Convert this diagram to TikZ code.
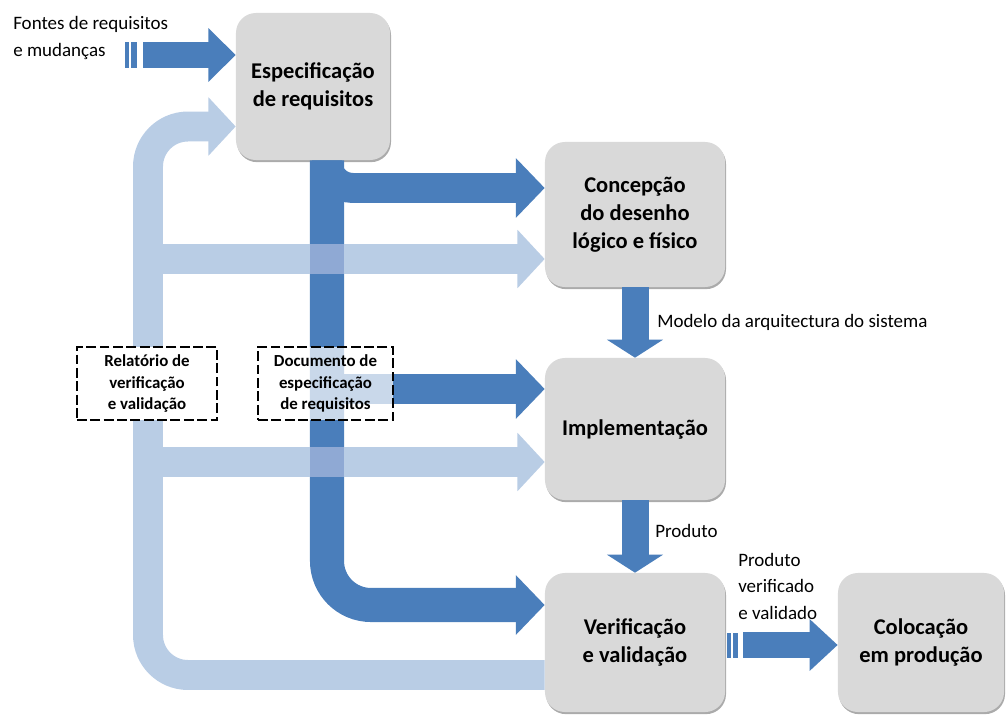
\documentclass[tikz,border=0pt]{standalone}
\usepackage{fontspec}
\setmainfont{Carlito}
\usetikzlibrary{arrows.meta,shadows,calc}

\definecolor{azulEsc}{HTML}{4A7EBB}
\definecolor{azulClaro}{HTML}{B9CDE5}
\definecolor{azulMix}{HTML}{8FA9D4}
\definecolor{cinzaCaixa}{HTML}{D9D9D9}

\begin{document}
\begin{tikzpicture}[x=0.025cm,y=-0.025cm,>=Triangle]

		\tikzstyle{every node}=[inner sep=0pt]
		\tikzstyle{etapa}=[rectangle, rounded corners=0.5cm, fill=cinzaCaixa, minimum width=4.5cm, align=center,
			font=\fontsize{16}{20}\selectfont\bfseries,
			drop shadow={shadow xshift=0.7pt, shadow yshift=-1.5pt, opacity=0.6, fill=black!55}]
		\tikzstyle{documento}=[rectangle, draw, dash pattern=on 7pt off 2.5pt, line width=0.85pt, fill=white,
			minimum height=1.825cm, align=center, font=\fontsize{12}{15.5}\selectfont\bfseries]
		\tikzstyle{rotulo}=[align=left, font=\fontsize{13.5}{18.5}\selectfont]
		\tikzstyle{fluxo}=[draw=azulEsc, line width=21.3pt, -{Triangle[width=1.45cm,length=0.72cm]}]
		\tikzstyle{retorno}=[draw=azulClaro, line width=21.3pt, -{Triangle[width=1.42cm,length=0.68cm]}]
		\tikzstyle{seta}=[draw=azulEsc, line width=19.2pt, -{Triangle[width=1.38cm,length=0.45cm]}]
		\tikzstyle{saida}=[draw=azulEsc, line width=18.2pt, -{Triangle[width=1.3cm,length=0.68cm]}]

		\useasboundingbox (0,0) rectangle (1008,717);

		% etapas
		\node[etapa, minimum width=3.85cm, minimum height=3.675cm] (espec) at (313,86.5) {Especificação\\de requisitos};
		\node[etapa, minimum height=3.625cm] (conc) at (635,214.5) {Concepção\\do desenho\\lógico e físico};
		\node[etapa, minimum height=3.55cm] (impl) at (635,429) {Implementação};
		\node[etapa, minimum height=3.475cm] (verif) at (635,642.5) {Verificação\\e validação};
		\node[etapa, minimum width=4.15cm, minimum height=3.475cm] (coloc) at (921,642.5) {Colocação\\em produção};

		% pontos auxiliares
		\coordinate (tronco) at (327,0);
		\coordinate (ciclo) at (148,0);
		\coordinate (aConc) at ($(conc.west)+(0,-26.5)$);
		\coordinate (aImpl) at ($(impl.west)+(0,-40)$);
		\coordinate (aVerif) at ($(verif.west)+(0,-37.5)$);
		\coordinate (lConc) at ($(conc.west)+(0,44.5)$);
		\coordinate (lImpl) at ($(impl.west)+(0,33)$);
		\coordinate (lVerif) at ($(verif.west)+(0,32.5)$);
		\coordinate (lEspec) at ($(espec.west)+(0,40)$);
		\coordinate (fonteIni) at (143,55);
		\coordinate (prodIni) at ($(verif.east)+(18,2.5)$);

		% fluxo do documento de requisitos
		\draw[fluxo, line width=24.2pt, rounded corners=1.1cm] (espec.south -| tronco) |- (aVerif);
		\draw[fluxo, rounded corners=0.65cm] (espec.south -| tronco) |- (aConc);
		\draw[fluxo] (aImpl -| tronco) -- (aImpl);

		% retorno do relatorio
		\draw[retorno, rounded corners=1cm] (lVerif) -| (ciclo |- lEspec) -- (lEspec);
		\draw[retorno] (ciclo |- lConc) -- (lConc);
		\draw[retorno] (ciclo |- lImpl) -- (lImpl);
		\foreach \p in {lConc,lImpl}
			\fill[azulMix] ($(tronco |- \p)+(-17,-15)$) rectangle ($(tronco |- \p)+(17,15)$);

		% entrada e saidas
		\foreach \xa/\xb in {125/129,131/137}
			\fill[azulEsc] (\xa,42) rectangle (\xb,68);
		\draw[saida] (fonteIni) -- (fonteIni -| espec.west);
		\draw[seta] (conc.south) -- (impl.north);
		\draw[seta] (impl.south) -- (verif.north);
		\foreach \xa/\xb in {727/731,733/738}
			\fill[azulEsc] (\xa,633) rectangle (\xb,658);
		\draw[saida, line width=17.8pt, -{Triangle[width=1.25cm,length=0.7cm]}] (prodIni) -- (prodIni -| coloc.west);

		% documentos
		\node[documento, minimum width=3.5cm] (relat) at (147,383.5) {Relatório de\\verificação\\e validação};
		\node[documento, minimum width=3.375cm, fill opacity=0.7, text opacity=1] (docu) at (325.5,383.5) {Documento de\\especificação\\de requisitos};

		% rotulos
		\node[rotulo, anchor=base west] (fontes) at (13,56) {Fontes de requisitos\\e mudanças};
		\node[rotulo, anchor=base west] (modelo) at (657,327) {Modelo da arquitectura do sistema};
		\node[rotulo, anchor=base west] (produto) at (655,537) {Produto};
		\node[rotulo, anchor=base west] (prodvv) at (738,619) {Produto\\verificado\\e validado};

\end{tikzpicture}
\end{document}
